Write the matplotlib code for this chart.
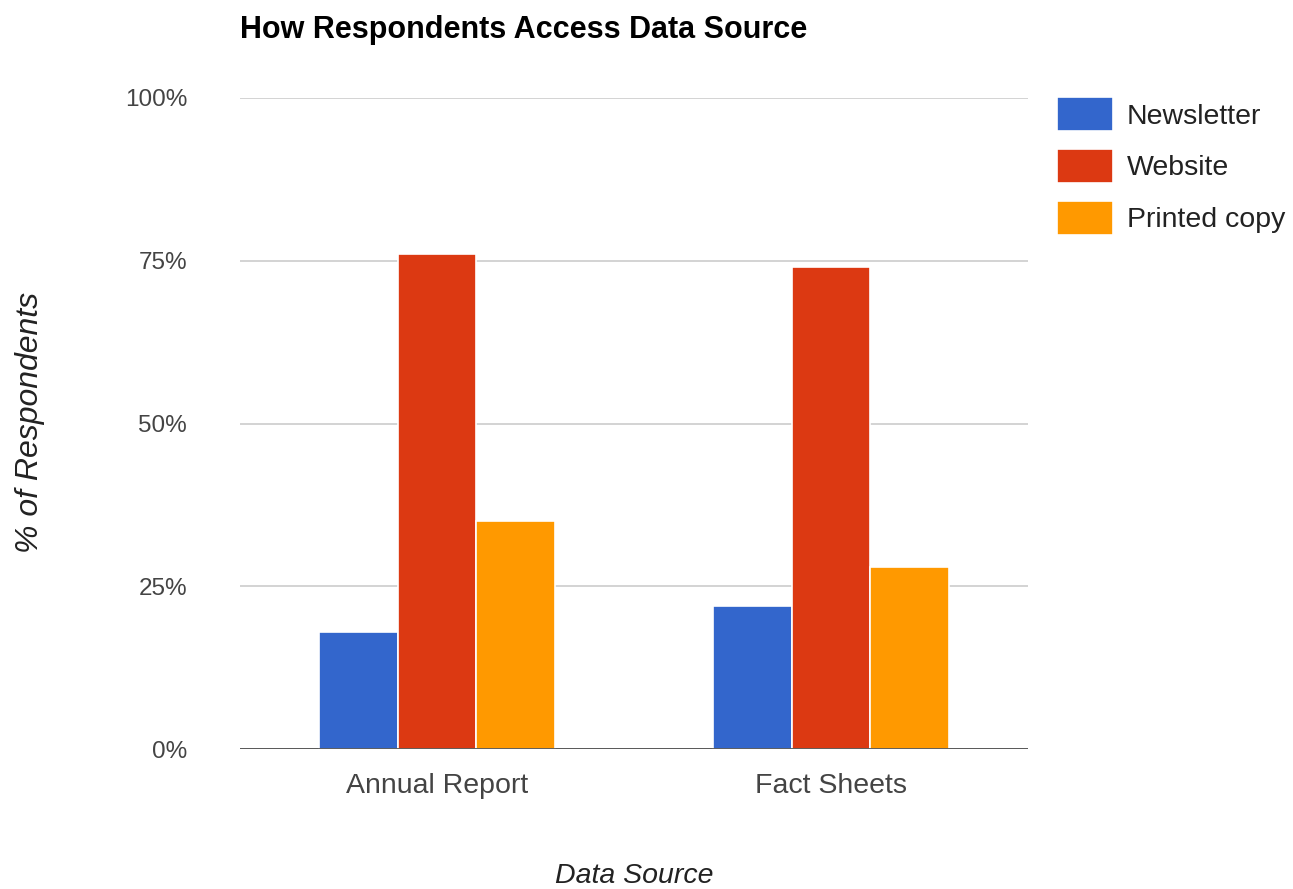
import matplotlib
matplotlib.use("Agg")
import matplotlib.pyplot as plt
import numpy as np

categories = ["Annual Report", "Fact Sheets"]
series_names = ["Newsletter", "Website", "Printed copy"]
newsletter = [18, 22]
website = [76, 74]
printed = [35, 28]
colors = ["#3366CC", "#DC3912", "#FF9900"]
yticks = [0, 25, 50, 75, 100]
ytick_labels = ["0%", "25%", "50%", "75%", "100%"]

plt.rcParams['font.family'] = ['Liberation Sans', 'DejaVu Sans']

fig = plt.figure(figsize=(12.93, 8.89), dpi=100)
W, H = 1293, 889
ax = fig.add_axes([240 / W, 1 - 749 / H, (1028 - 240) / W, (749 - 98) / H])

x = np.arange(len(categories))
bw = 0.2
for i, (vals, name, c) in enumerate(zip([newsletter, website, printed], series_names, colors)):
    ax.bar(x + (i - 1) * bw, vals, width=bw, color=c, edgecolor="white", linewidth=1.2,
           label=name, zorder=3)

ax.set_xlim(-0.5, 1.5)
ax.set_ylim(0, 100)
ax.set_yticks(yticks)
ax.set_yticklabels(ytick_labels)
ax.set_xticks(x)
ax.set_xticklabels(categories)
ax.grid(axis="y", color="#CCCCCC", linewidth=1.2, zorder=0)
ax.axhline(0, color="#333333", linewidth=1.8, zorder=4)
for s in ax.spines.values():
    s.set_visible(False)
ax.tick_params(axis="both", length=0, colors="#444444")
ax.tick_params(axis="y", pad=38, labelsize=17.5)
ax.tick_params(axis="x", pad=17, labelsize=20.5)

fig.text(240 / W, 1 - 30 / H, "How Respondents Access Data Source", fontsize=22,
         fontweight="bold", ha="left", va="center", color="#000000")
fig.text(30 / W, 1 - 422 / H, "% of Respondents", rotation=90, fontsize=23,
         fontstyle="italic", ha="center", va="center", color="#222222")
fig.text(634 / W, 1 - 876 / H, "Data Source", fontsize=20.5, fontstyle="italic",
         ha="center", va="center", color="#222222")

leg = ax.legend(loc="upper left", bbox_to_anchor=(1057 / W, 1 - 97 / H),
                bbox_transform=fig.transFigure, frameon=False, fontsize=20.5,
                handlelength=1.97, handleheight=1.47, handletextpad=0.49,
                labelspacing=0.62, borderpad=0, borderaxespad=0)
for t in leg.get_texts():
    t.set_color("#222222")

fig.savefig("out.png", dpi=100)
